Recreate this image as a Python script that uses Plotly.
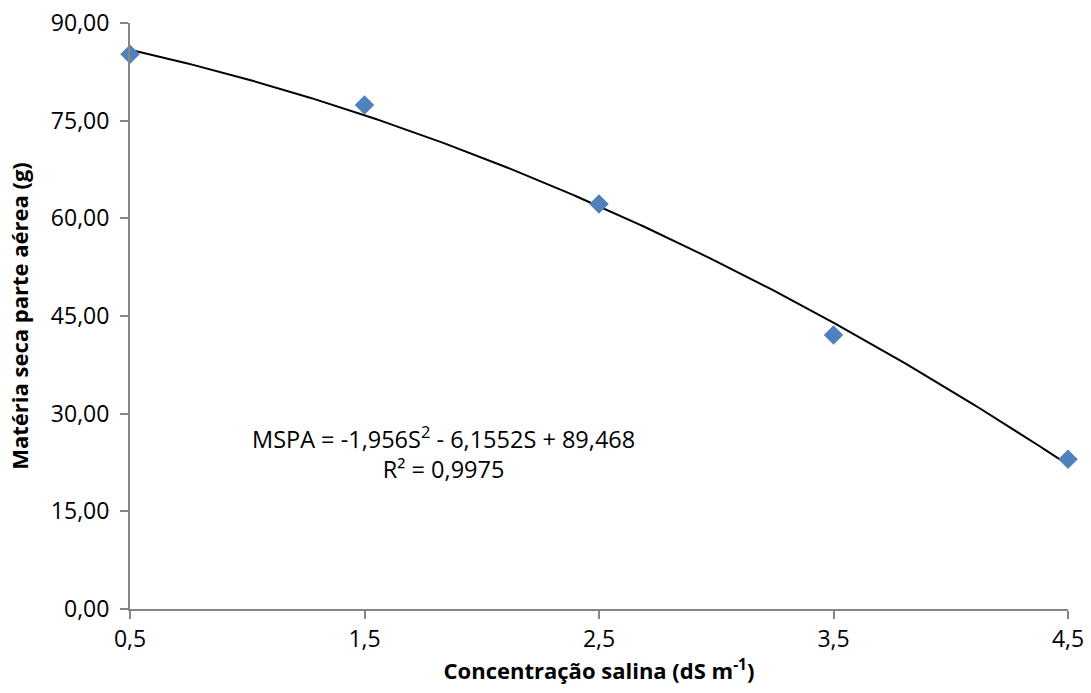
import numpy as np
import plotly.graph_objects as go

salinity = [0.5, 1.5, 2.5, 3.5, 4.5]
mspa = [85.2, 77.4, 62.2, 42.1, 23.0]
trend_coef = [-1.956, -6.1552, 89.468]  # a S^2 + b S + c
x_ticks = [0.5, 1.5, 2.5, 3.5, 4.5]
x_tick_labels = ["0,5", "1,5", "2,5", "3,5", "4,5"]
y_ticks = [0, 15, 30, 45, 60, 75, 90]
y_tick_labels = ["0,00", "15,00", "30,00", "45,00", "60,00", "75,00", "90,00"]

xs = np.linspace(salinity[0], salinity[-1], 200)
ys = np.polyval(trend_coef, xs)

FONT = "Open Sans"

fig = go.Figure()
fig.add_trace(go.Scatter(x=xs, y=ys, mode="lines",
                         line=dict(color="black", width=2), showlegend=False,
                         hoverinfo="skip"))
fig.add_trace(go.Scatter(x=salinity, y=mspa, mode="markers",
                         marker=dict(symbol="diamond", size=15, color="#4F81BD",
                                     line=dict(width=0)),
                         showlegend=False))

fig.add_annotation(x=1.835, y=24.1, xref="x", yref="y",
                   text="MSPA = -1,956S<sup>2</sup> - 6,1552S + 89,468<br>R² = 0,9975",
                   showarrow=False, align="center",
                   font=dict(family=FONT, size=23.5, color="black"))

axis_common = dict(showgrid=False, zeroline=False, showline=True,
                   linecolor="#868686", linewidth=2, ticks="outside",
                   ticklen=8, tickwidth=2, tickcolor="#868686",
                   automargin=False,
                   tickfont=dict(family=FONT, size=23, color="black"))

fig.update_xaxes(range=[0.5, 4.5], tickvals=x_ticks, ticktext=x_tick_labels,
                 title=dict(text="<b>Concentração salina (dS m<sup>-1</sup>)</b>",
                            font=dict(family=FONT, size=22, color="black"),
                            standoff=6),
                 **axis_common)
fig.update_yaxes(range=[0, 90], tickvals=y_ticks, ticktext=y_tick_labels,
                 ticklabelstandoff=6,
                 title=dict(text="<b>Matéria seca parte aérea (g)</b>",
                            font=dict(family=FONT, size=22, color="black"),
                            standoff=16),
                 **axis_common)

fig.update_layout(width=1091, height=693,
                  margin=dict(l=130, r=23, t=23, b=84),
                  plot_bgcolor="white", paper_bgcolor="white",
                  font=dict(family=FONT))
fig.update_traces(cliponaxis=False)

fig.write_html("out.html")
